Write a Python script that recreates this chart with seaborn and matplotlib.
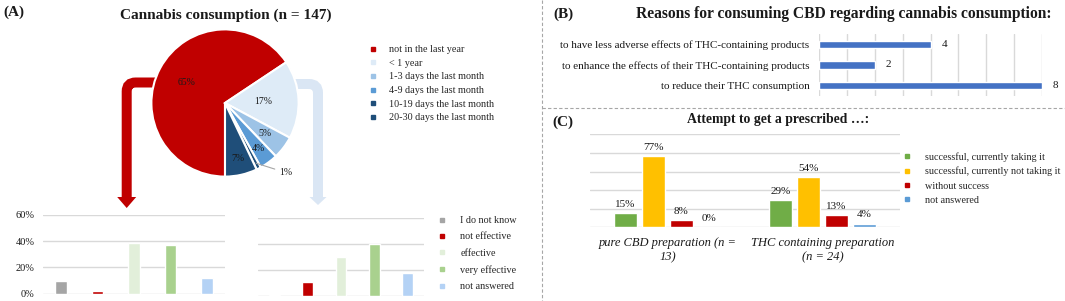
import numpy as np
import pandas as pd
import matplotlib
matplotlib.use('Agg')
import matplotlib.pyplot as plt
import seaborn as sns
from matplotlib.path import Path
from matplotlib.patches import PathPatch, Polygon
from matplotlib.lines import Line2D

sns.set_style('white')
plt.rcParams['font.family'] = ['Liberation Serif', 'DejaVu Serif']

# (A) cannabis consumption pie
pie_labels = ['not in the last year', '< 1 year', '1-3 days the last month',
              '4-9 days the last month', '10-19 days the last month', '20-30 days the last month']
pie_values = [65, 17, 5, 4, 1, 7]
pie_colors = ['#C00000', '#DEEBF7', '#9DC3E6', '#5B9BD5', '#1F4E79', '#1F4E79']

# (A) perceived effect, split by consumption group
eff_labels = ['I do not know', 'not effective', 'effective', 'very effective', 'not answered']
eff_colors = ['#A5A5A5', '#C00000', '#E2EFDA', '#A9D18E', '#B4D2F5']
eff_not_last_year = [10, 2, 39, 37, 12]
eff_less_1_year = [1, 11, 30, 40, 18]

# (B) reasons
reason_labels = ['to have less adverse effects of THC-containing products',
                 'to enhance the effects of their THC-containing products',
                 'to reduce their THC consumption']
reason_counts = [4, 2, 8]

# (C) prescription attempts
presc_groups = ['pure CBD preparation (n =\n13)', 'THC containing preparation\n(n = 24)']
presc_status = ['successful, currently taking it', 'successful, currently not taking it',
                'without success', 'not answered']
presc_colors = ['#70AD47', '#FFC000', '#C00000', '#5B9BD5']
presc_cbd = [15, 77, 8, 0]
presc_thc = [29, 54, 13, 4]

W, H = 1065, 301
fig = plt.figure(figsize=(W / 100, H / 100), dpi=100)
GRID = '#D9D9D9'
TXT = '#1a1a1a'


def px_box(left, top, width, height):
    return [left / W, 1 - (top + height) / H, width / W, height / H]


def square_handles(colors):
    return [Line2D([], [], ls='none', marker='s', ms=3.5, mfc=c, mec=c) for c in colors]


# overlay in pixel coords: arrows, dashed frames, panel letters, titles
ov = fig.add_axes([0, 0, 1, 1], zorder=0)
ov.set_xlim(0, W)
ov.set_ylim(H, 0)
ov.axis('off')


def bracket(x0, y0, x1, y1, r, color, head_w, tip):
    sgn = 1 if x1 > x0 else -1
    verts = [(x0, y0), (x1 - sgn * r, y0), (x1, y0), (x1, y0 + r), (x1, y1)]
    codes = [Path.MOVETO, Path.LINETO, Path.CURVE3, Path.CURVE3, Path.LINETO]
    ov.add_patch(PathPatch(Path(verts, codes), fill=False, lw=7.2, edgecolor=color, capstyle='butt'))
    ov.add_patch(Polygon([(x1 - head_w / 2, y1), (x1 + head_w / 2, y1), (x1, tip)],
                         closed=True, facecolor=color, lw=0))


bracket(175, 82.5, 126.7, 197, 9, '#C00000', 19, 208)
bracket(280, 84, 318, 197, 9, '#DAE6F4', 17, 205)

ov.plot([542, W], [108, 108], ls=(0, (3, 2)), color='#A6A6A6', lw=0.8)
ov.plot([542, 542], [0, H], ls=(0, (3, 2)), color='#A6A6A6', lw=0.8)

for x, y, s in [(14, 12, '(A)'), (563, 14, '(B)'), (563, 122, '(C)')]:
    ov.text(x, y, s, ha='center', va='center', fontsize=11, fontweight='bold', color=TXT)
ov.text(226, 15, 'Cannabis consumption (n = 147)', ha='center', va='center',
        fontsize=11, fontweight='bold', color=TXT)
ov.text(844, 14, 'Reasons for consuming CBD regarding cannabis consumption:', ha='center',
        va='center', fontsize=11.2, fontweight='bold', color=TXT)
ov.text(778, 120, 'Attempt to get a prescribed \u2026:', ha='center', va='center',
        fontsize=9.9, fontweight='bold', color=TXT)

# pie
pie_ax = fig.add_axes(px_box(225 - 92, 103 - 92, 184, 184), zorder=2)
wedges, _ = pie_ax.pie(pie_values, colors=pie_colors, startangle=-90, counterclock=False,
                       wedgeprops=dict(edgecolor='white', linewidth=1.5))
pie_ax.set_xlim(-1.25, 1.25)
pie_ax.set_ylim(-1.25, 1.25)
label_r = [0.6, 0.52, 0.68, 0.77, None, 0.78]
for w, v, r in zip(wedges, pie_values, label_r):
    ang = np.deg2rad((w.theta1 + w.theta2) / 2)
    if r is None:
        pie_ax.annotate(f'{v}%', xy=(0.92 * np.cos(ang), 0.92 * np.sin(ang)),
                        xytext=(1.2 * np.cos(np.deg2rad(-52)), 1.2 * np.sin(np.deg2rad(-52))),
                        fontsize=7, color=TXT, ha='left', va='center',
                        arrowprops=dict(arrowstyle='-', color='#A6A6A6', lw=0.8,
                                        shrinkA=1, shrinkB=0))
    else:
        pie_ax.text(r * np.cos(ang), r * np.sin(ang), f'{v}%', ha='center', va='center',
                    fontsize=7, color=TXT)

fig.legend(square_handles(pie_colors), pie_labels, loc='upper left',
           bbox_to_anchor=(368 / W, 1 - 45 / H), frameon=False, fontsize=7.3,
           handlelength=1, handletextpad=1.1, labelspacing=0.45, borderpad=0, borderaxespad=0)


def effect_bars(box, values, show_ticks):
    ax = fig.add_axes(px_box(*box))
    sns.barplot(x=eff_labels, y=values, hue=eff_labels, palette=eff_colors, saturation=1,
                width=0.32, legend=False, ax=ax)
    ax.set_ylim(0, 60)
    ax.set_yticks([0, 20, 40, 60])
    ax.set_yticklabels([f'{t}%' for t in [0, 20, 40, 60]] if show_ticks else [])
    ax.set_xticks([])
    ax.set_xlabel('')
    ax.yaxis.grid(True, color=GRID, lw=1)
    ax.set_axisbelow(True)
    ax.tick_params(axis='y', length=0, labelsize=7.5, pad=6, labelcolor=TXT)
    sns.despine(ax=ax, left=True, bottom=True)
    ax.set_facecolor('none')
    return ax


effect_bars((43, 215, 182, 78.7), eff_not_last_year, True)
effect_bars((258, 217.7, 166, 78.6), eff_less_1_year, False)

fig.legend(square_handles(eff_colors), eff_labels, loc='upper left',
           bbox_to_anchor=(437 / W, 1 - 216 / H), frameon=False, fontsize=7.3,
           handlelength=1, handletextpad=1.3, labelspacing=0.72, borderpad=0, borderaxespad=0)

# (B) horizontal bars
axb = fig.add_axes(px_box(819, 34, 223, 62))
sns.barplot(x=reason_counts, y=reason_labels, orient='h', color='#4472C4', saturation=1,
            width=0.36, ax=axb)
axb.set_xlim(0, 8)
axb.set_xticks(range(9))
axb.xaxis.grid(True, color=GRID, lw=1)
axb.set_axisbelow(True)
axb.tick_params(axis='x', labelbottom=False, length=0)
axb.tick_params(axis='y', length=0, labelsize=8, pad=7, labelcolor=TXT)
axb.set_xlabel('')
axb.set_ylabel('')
sns.despine(ax=axb, left=True, bottom=True)
axb.bar_label(axb.containers[0], padding=8, fontsize=8, color=TXT)

# (C) grouped bars
df_c = pd.DataFrame({'group': np.repeat(presc_groups, len(presc_status)),
                     'status': presc_status * len(presc_groups),
                     'value': presc_cbd + presc_thc})
axc = fig.add_axes(px_box(590, 134.3, 310, 93))
sns.barplot(data=df_c, x='group', y='value', hue='status', palette=presc_colors, saturation=1,
            width=0.72, gap=0.2, legend=False, ax=axc)
axc.set_ylim(0, 100)
axc.set_yticks(range(0, 101, 20))
axc.set_yticklabels([])
axc.yaxis.grid(True, color=GRID, lw=1)
axc.set_axisbelow(True)
axc.tick_params(axis='y', length=0)
axc.tick_params(axis='x', length=0, labelsize=9, pad=7, labelcolor=TXT)
for lbl in axc.get_xticklabels():
    lbl.set_fontstyle('italic')
axc.set_xlabel('')
axc.set_ylabel('')
sns.despine(ax=axc, left=True, bottom=True)
for cont in axc.containers:
    axc.bar_label(cont, labels=[f'{v:.0f}%' for v in cont.datavalues], padding=3,
                  fontsize=8, color=TXT)

fig.legend(square_handles(presc_colors), presc_status, loc='upper left',
           bbox_to_anchor=(902 / W, 1 - 152 / H), frameon=False, fontsize=7.3,
           handlelength=1, handletextpad=1.25, labelspacing=0.5, borderpad=0, borderaxespad=0)

fig.savefig('out.png', dpi=100)
